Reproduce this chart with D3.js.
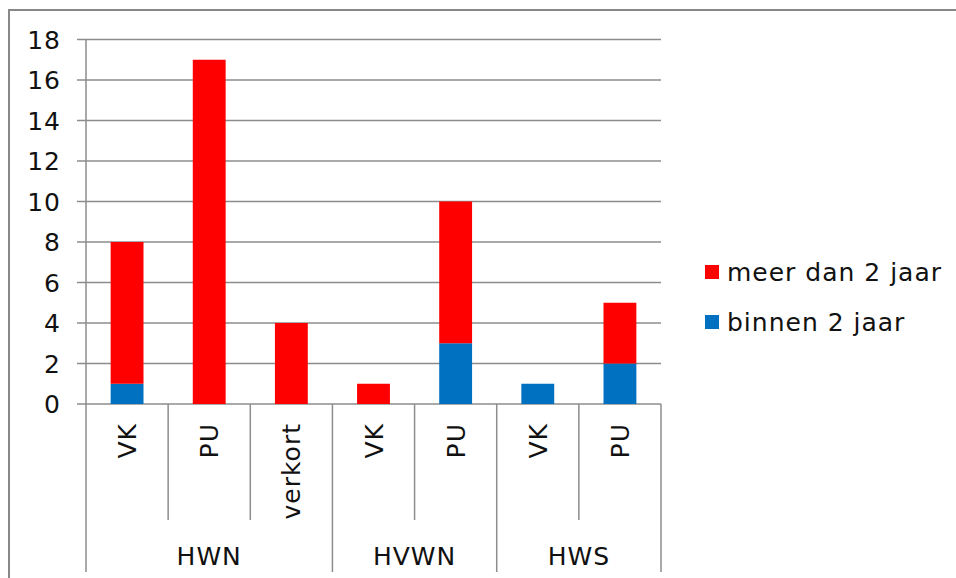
<!DOCTYPE html>
<html>
<head>
<meta charset="utf-8">
<script src="https://cdn.jsdelivr.net/npm/d3@7"></script>
<style>
  body { margin: 0; background: #fff; }
  svg { display: block; font-family: 'DejaVu Sans', Verdana, sans-serif; }
  text { font-size: 25px; letter-spacing: 1px; fill: #111; }
</style>
</head>
<body>
<svg id="chart" width="956" height="578"></svg>
<script>
const categories = ['VK', 'PU', 'verkort', 'VK', 'PU', 'VK', 'PU']
const groups = ['HWN', 'HWN', 'HWN', 'HVWN', 'HVWN', 'HWS', 'HWS']
const binnen = [1, 0, 0, 0, 3, 1, 2]
const meer = [7, 17, 4, 1, 7, 0, 3]
const yTicks = [0, 2, 4, 6, 8, 10, 12, 14, 16, 18]
const seriesNames = ['binnen 2 jaar', 'meer dan 2 jaar']
const colors = ['#0070C0', '#FF0000']

const W = 956
const H = 578
const plot = { left: 86, right: 661, top: 39.5, bottom: 404 }
const gridColor = '#8c8c8c'

const svg = d3.select('#chart')

// outer frame (cut off right / bottom like the original)
svg.append('rect')
  .attr('x', 9).attr('y', 10)
  .attr('width', W + 20).attr('height', H + 20)
  .attr('fill', 'none')
  .attr('stroke', '#888')
  .attr('stroke-width', 2)

const x = d3.scaleBand()
  .domain(d3.range(categories.length))
  .range([plot.left, plot.right])
  .paddingInner(0.6)
  .paddingOuter(0.3)

const y = d3.scaleLinear()
  .domain([0, 18])
  .range([plot.bottom, plot.top])

const step = x.step()
const edge = i => plot.left + i * step

// grid lines + y labels
svg.append('g').selectAll('line')
  .data(yTicks)
  .enter().append('line')
  .attr('x1', plot.left - 9).attr('x2', plot.right)
  .attr('y1', d => y(d)).attr('y2', d => y(d))
  .attr('stroke', gridColor)
  .attr('stroke-width', 1.5)

svg.append('g').selectAll('text')
  .data(yTicks)
  .enter().append('text')
  .attr('x', 61)
  .attr('y', d => y(d))
  .attr('dy', '0.36em')
  .attr('text-anchor', 'end')
  .text(d => d)

// y axis line
svg.append('line')
  .attr('x1', plot.left).attr('x2', plot.left)
  .attr('y1', plot.top).attr('y2', plot.bottom)
  .attr('stroke', gridColor)
  .attr('stroke-width', 1.5)

// stacked bars
const rows = categories.map((c, i) => ({ i, binnen: binnen[i], meer: meer[i] }))
const stack = d3.stack().keys(['binnen', 'meer'])(rows)

svg.append('g').selectAll('g')
  .data(stack)
  .enter().append('g')
  .attr('fill', (d, k) => colors[k])
  .selectAll('rect')
  .data(d => d.filter(p => p[1] > p[0]))
  .enter().append('rect')
  .attr('x', d => x(d.data.i))
  .attr('width', x.bandwidth())
  .attr('y', d => y(d[1]))
  .attr('height', d => y(d[0]) - y(d[1]))

// category separators
const groupStarts = [0]
groups.forEach((g, i) => { if (i > 0 && g !== groups[i - 1]) groupStarts.push(i) })
groupStarts.push(categories.length)

svg.append('g').selectAll('line')
  .data(d3.range(categories.length + 1))
  .enter().append('line')
  .attr('x1', edge).attr('x2', edge)
  .attr('y1', plot.bottom)
  .attr('y2', i => groupStarts.includes(i) ? 572 : 520)
  .attr('stroke', gridColor)
  .attr('stroke-width', 1.5)

// category labels (rotated)
svg.append('g').selectAll('text')
  .data(categories)
  .enter().append('text')
  .attr('transform', (d, i) => `translate(${x(i) + x.bandwidth() / 2},423) rotate(-90)`)
  .attr('dy', '0.36em')
  .attr('text-anchor', 'end')
  .text(d => d)

// group labels
const groupSpans = groupStarts.slice(0, -1).map((s, k) => ({
  name: groups[s], from: s, to: groupStarts[k + 1]
}))

svg.append('g').selectAll('text')
  .data(groupSpans)
  .enter().append('text')
  .attr('x', d => (edge(d.from) + edge(d.to)) / 2)
  .attr('y', 565)
  .attr('text-anchor', 'middle')
  .text(d => d.name)

// legend, top entry is the upper series
const legend = svg.append('g').attr('transform', 'translate(705,265)')
const legendItems = [1, 0]
legendItems.forEach((k, j) => {
  const row = legend.append('g').attr('transform', `translate(0,${j * 50})`)
  row.append('rect')
    .attr('width', 14).attr('height', 14)
    .attr('fill', colors[k])
  row.append('text')
    .attr('x', 22).attr('y', 7)
    .attr('dy', '0.36em')
    .text(seriesNames[k])
})
</script>
</body>
</html>
